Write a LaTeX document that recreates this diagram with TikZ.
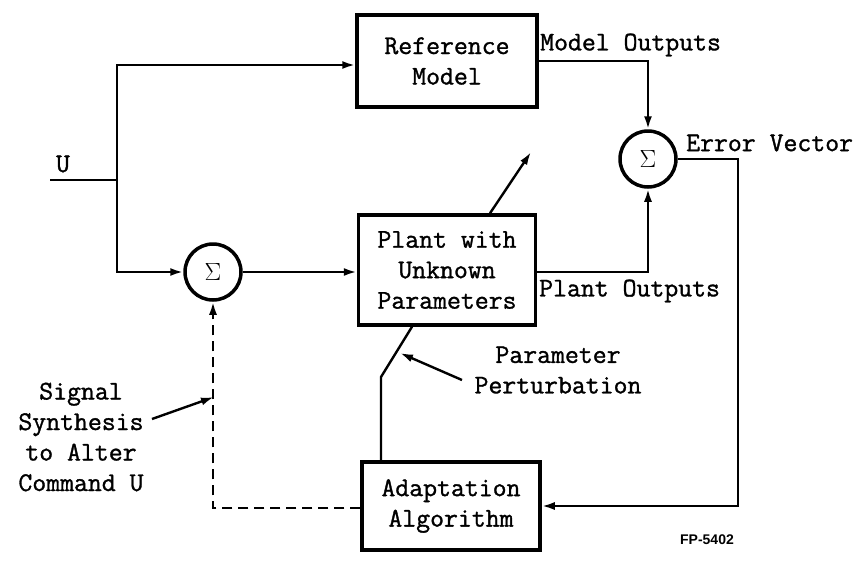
\documentclass[tikz,border=0pt]{standalone}
\usepackage{fontspec}
\newfontfamily\typew{Latin Modern Mono}[FakeBold=1.2]
\newfontfamily\labelsans{Liberation Sans}
\usetikzlibrary{arrows.meta}
\tikzset{
  block/.style={draw, line width=3.5pt, minimum width=#1, inner sep=0pt, align=center},
  summer/.style={draw, circle, line width=3.5pt, minimum size=56pt, inner sep=0pt},
  wire/.style={line width=2.4pt},
  sig/.style={wire, -{Latex[length=13pt,width=8pt]}},
  txt/.style={inner sep=0pt, align=center},
}
\begin{document}
\begin{tikzpicture}[x=1pt,y=-1pt,font=\typew\fontsize{27}{30.5}\selectfont]
\useasboundingbox (0,0) rectangle (867,560);

% blocks
\node[block=180pt, minimum height=92pt] (ref) at (447,61) {Reference\\Model};
\node[block=177pt, minimum height=110pt] (plant) at (447,270) {Plant with\\Unknown\\Parameters};
\node[block=178pt, minimum height=88pt] (adapt) at (451,506) {Adaptation\\Algorithm};

% summing junctions
\node[summer] (s1) at (213,272) {\fontsize{24}{24}\selectfont$\Sigma$};
\node[summer] (s2) at (648,159) {\fontsize{24}{24}\selectfont$\Sigma$};

% command input and split
\coordinate (uin) at (50,180);
\coordinate (j) at (117,180);
\draw[wire] (uin) -- (j);
\draw[sig] (j) |- ([yshift=-4pt]ref.west);
\draw[sig] (j) |- (s1.west);
\draw[sig] (s1.east) -- (plant.west |- s1.east);

% outputs to the error summer
\draw[sig] (ref.east) -| (s2.north);
\draw[sig] ([yshift=-2pt]plant.east) -| (s2.south);

% error vector back to the adaptation algorithm
\coordinate (ev) at (738,159);
\draw[sig] (s2.east) -- (ev) |- (adapt.east);

% plant parameter adjustment
\coordinate (tip) at (531,152);
\draw[sig] ([xshift=43pt]plant.north) -- (tip);
\coordinate (bend) at (381,377);
\draw[wire] ([xshift=-70pt]adapt.north) -- (bend) -- ([xshift=-35pt]plant.south);

% synthesized signal to the command summer
\draw[sig, dash pattern=on 10pt off 6pt] ([yshift=-2pt]adapt.west) -| (s1.south);

% labels
\node[txt] (lu) at (63,164) {U};
\node[txt, anchor=west] (lmo) at (540,45) {Model Outputs};
\node[txt, anchor=west] (lev) at (686,143) {Error Vector};
\node[txt, anchor=west] (lpo) at (539,291) {Plant Outputs};
\node[txt] (lpp) at (558,370) {Parameter\\Perturbation};
\node[txt] (lss) at (81,437) {Signal\\Synthesis\\to Alter\\Command U};
\node[txt] (lfp) at (707,540) {\labelsans\bfseries\fontsize{14}{14}\selectfont FP-5402};

% pointers from the notes
\coordinate (ppt) at (400,353);
\draw[sig] (462,380) -- (ppt);
\coordinate (sst) at (214,397);
\draw[sig] (152,419) -- (sst);
\end{tikzpicture}
\end{document}
